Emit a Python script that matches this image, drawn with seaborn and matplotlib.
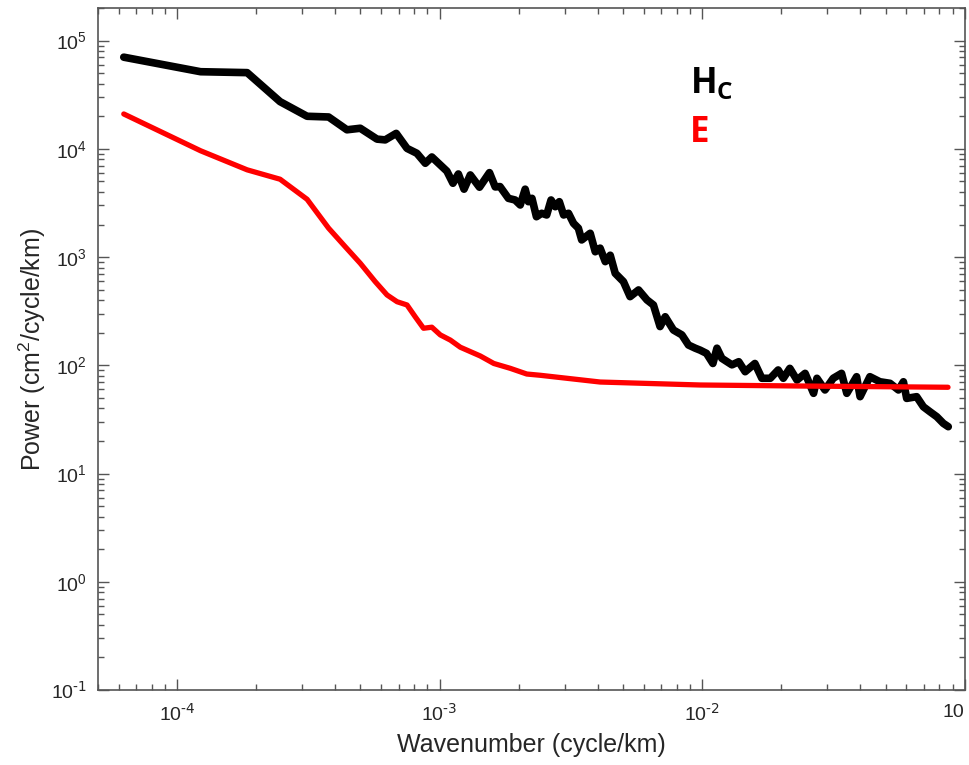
import numpy as np
import pandas as pd
import matplotlib
matplotlib.use('Agg')
import matplotlib.pyplot as plt
import matplotlib.ticker as mticker
import seaborn as sns

# values (wavenumber in cycle/km, power in cm^2/cycle/km)
k_hc = [6.27e-5, 1.23e-4, 1.85e-4, 2.47e-4, 3.13e-4, 3.78e-4, 4.44e-4, 4.99e-4, 5.78e-4, 6.21e-4,
        6.84e-4, 7.52e-4, 8.20e-4, 8.83e-4, 9.35e-4, 1.067e-3, 1.125e-3, 1.18e-3, 1.24e-3, 1.31e-3,
        1.42e-3, 1.55e-3, 1.63e-3, 1.70e-3, 1.83e-3, 1.94e-3, 2.03e-3, 2.12e-3, 2.18e-3, 2.25e-3,
        2.34e-3, 2.45e-3, 2.56e-3, 2.66e-3, 2.76e-3, 2.86e-3, 2.97e-3, 3.10e-3, 3.24e-3, 3.38e-3,
        3.48e-3, 3.75e-3, 3.92e-3, 4.09e-3, 4.28e-3, 4.47e-3, 4.67e-3, 5.02e-3, 5.32e-3, 5.73e-3,
        6.17e-3, 6.53e-3, 6.92e-3, 7.24e-3, 7.78e-3, 8.38e-3, 8.88e-3, 9.42e-3, 9.84e-3, 1.04e-2,
        1.10e-2, 1.14e-2, 1.19e-2, 1.30e-2, 1.38e-2, 1.46e-2, 1.59e-2, 1.69e-2, 1.82e-2, 1.95e-2,
        2.04e-2, 2.16e-2, 2.30e-2, 2.47e-2, 2.66e-2, 2.74e-2, 2.94e-2, 3.16e-2, 3.40e-2, 3.56e-2,
        3.88e-2, 4.00e-2, 4.36e-2, 4.76e-2, 5.20e-2, 5.60e-2, 5.85e-2, 6.02e-2, 6.57e-2, 6.97e-2,
        7.39e-2, 7.84e-2, 8.30e-2, 8.67e-2]
p_hc = [7.03e4, 5.16e4, 5.06e4, 2.73e4, 2.00e4, 1.97e4, 1.50e4, 1.55e4, 1.23e4, 1.21e4,
        1.39e4, 1.01e4, 9.1e3, 7.36e3, 8.41e3, 6.22e3, 4.81e3, 5.86e3, 4.24e3, 5.74e3,
        4.42e3, 6.03e3, 4.45e3, 4.48e3, 3.49e3, 3.37e3, 3.03e3, 4.24e3, 3.25e3, 3.49e3,
        2.36e3, 2.54e3, 2.45e3, 3.37e3, 2.92e3, 3.25e3, 2.45e3, 2.54e3, 2.05e3, 1.85e3,
        1.44e3, 1.66e3, 1.12e3, 1.21e3, 908, 1.04e3, 708, 593, 431, 497,
        402, 361, 228, 281, 212, 191, 154, 144, 138, 129,
        104, 144, 116, 101, 108, 87.3, 104, 75.9, 75.9, 90.6,
        75.9, 93.8, 73.1, 84.3, 55.1, 75.9, 59.2, 75.9, 84.3, 55.1,
        78.5, 51.3, 78.5, 70.5, 68.2, 59.2, 70.5, 49.5, 51.3, 41.4,
        37.2, 33.5, 29.1, 27.1]

k_e = [6.27e-5, 1.23e-4, 1.85e-4, 2.47e-4, 3.13e-4, 3.78e-4, 4.37e-4, 4.99e-4, 5.69e-4, 6.31e-4,
       6.89e-4, 7.52e-4, 8.08e-4, 8.69e-4, 9.35e-4, 1.007e-3, 1.10e-3, 1.20e-3, 1.43e-3, 1.61e-3,
       1.86e-3, 2.15e-3, 2.42e-3, 4.09e-3, 9.84e-3, 2.36e-2, 8.65e-2]
p_e = [2.10e4, 9.6e3, 6.4e3, 5.24e3, 3.42e3, 1.85e3, 1.25e3, 877, 593, 447,
       387, 361, 281, 220, 225, 191, 171, 147, 122, 104,
       93.8, 83.1, 80.9, 70.1, 65.8, 64.4, 62.7]

x_ticks = [1e-4, 1e-3, 1e-2, 1e-1]
x_ticklabels = ['10$^{\\text{-4}}$', '10$^{\\text{-3}}$', '10$^{\\text{-2}}$', '10']
y_ticks = [1e-1, 1e0, 1e1, 1e2, 1e3, 1e4, 1e5]
y_ticklabels = ['10$^{\\text{-1}}$', '10$^{0}$', '10$^{1}$', '10$^{2}$', '10$^{3}$', '10$^{4}$', '10$^{5}$']

sns.set_style('ticks')
plt.rcParams['font.family'] = ['Liberation Sans', 'DejaVu Sans']
plt.rcParams['mathtext.default'] = 'regular'
plt.rcParams['axes.unicode_minus'] = False

df_hc = pd.DataFrame({'k': k_hc, 'P': p_hc})
df_e = pd.DataFrame({'k': k_e, 'P': p_e})

fig = plt.figure(figsize=(9.69, 7.65), dpi=100)
ax = fig.add_axes([0.1011, 0.098, 0.8943, 0.8915])

sns.lineplot(data=df_hc, x='k', y='P', ax=ax, color='black', lw=5.5, estimator=None)
sns.lineplot(data=df_e, x='k', y='P', ax=ax, color='#ff0000', lw=3.8, estimator=None)

ax.set_xscale('log')
ax.set_yscale('log')
ax.set_xlim(5.0e-5, 1e-1)
ax.set_ylim(1e-1, 2.0e5)

ax.set_xticks(x_ticks)
ax.set_xticklabels(x_ticklabels)
ax.set_yticks(y_ticks)
ax.set_yticklabels(y_ticklabels)
ax.xaxis.set_minor_locator(mticker.LogLocator(base=10, subs=np.arange(2, 10), numticks=20))
ax.yaxis.set_minor_locator(mticker.LogLocator(base=10, subs=np.arange(2, 10), numticks=20))
ax.xaxis.set_minor_formatter(mticker.NullFormatter())
ax.yaxis.set_minor_formatter(mticker.NullFormatter())

ax.tick_params(which='both', direction='in', top=True, right=True, color='#555555', width=1)
ax.tick_params(which='major', length=8, labelsize=14)
ax.tick_params(which='minor', length=4)
ax.tick_params(axis='x', which='major', pad=10)
ax.tick_params(axis='y', which='major', pad=8)
# last x label is cut in the reference, keep it inside the figure
ax.get_xticklabels()[-1].set_horizontalalignment('right')
for s in ax.spines.values():
    s.set_visible(True)
    s.set_color('#555555')
    s.set_linewidth(1.2)

ax.set_xlabel('Wavenumber (cycle/km)', fontsize=18, labelpad=6)
ax.set_ylabel('Power (cm$^2$/cycle/km)', fontsize=18, labelpad=2)

ax.text(0.683, 0.875, 'H$_C$', transform=ax.transAxes, fontsize=25, fontweight='bold',
        color='black', family=['Open Sans', 'DejaVu Sans'])
ax.text(0.683, 0.803, 'E', transform=ax.transAxes, fontsize=25, fontweight='bold',
        color='#ff0000', family=['Open Sans', 'DejaVu Sans'])

fig.savefig('out.png', dpi=100)
